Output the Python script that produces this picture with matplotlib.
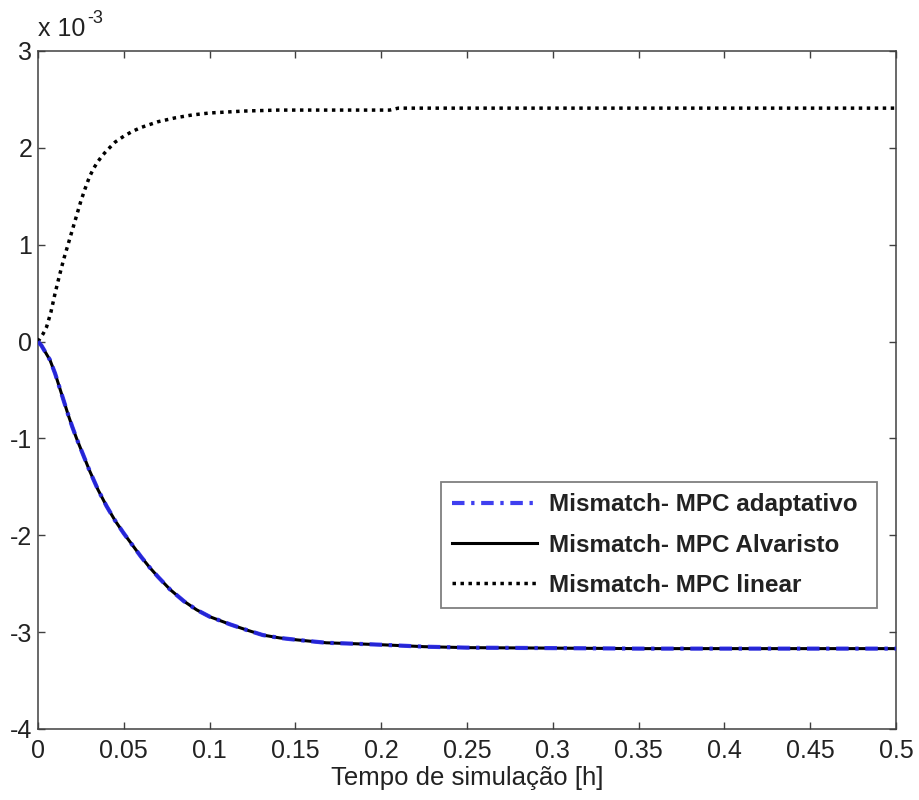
import matplotlib
matplotlib.use('Agg')
import matplotlib.pyplot as plt
from matplotlib.ticker import FuncFormatter, MultipleLocator

plt.rcParams['font.family'] = ['Liberation Sans', 'DejaVu Sans']

# tempo [h] e mismatch em unidades de 1e-3
t_linear = [0, 0.003, 0.005, 0.0075, 0.01, 0.0125, 0.015, 0.0175, 0.02, 0.0225, 0.025,
            0.0275, 0.03, 0.0325, 0.035, 0.0375, 0.04, 0.045, 0.05, 0.055, 0.06, 0.07,
            0.08, 0.09, 0.10, 0.11, 0.12, 0.14, 0.16, 0.18, 0.205, 0.21, 0.25, 0.3,
            0.35, 0.4, 0.45, 0.5]
v_linear = [0, 0.08, 0.15, 0.30, 0.50, 0.68, 0.85, 1.00, 1.15, 1.30, 1.45, 1.58,
            1.70, 1.79, 1.86, 1.92, 1.97, 2.06, 2.12, 2.17, 2.21, 2.27, 2.31, 2.34,
            2.36, 2.37, 2.38, 2.39, 2.39, 2.39, 2.39, 2.41, 2.41, 2.41, 2.41, 2.41,
            2.41, 2.41]

t_mpc = [0, 0.002, 0.004, 0.007, 0.01, 0.0125, 0.015, 0.0175, 0.02, 0.0225, 0.025,
         0.03, 0.035, 0.04, 0.045, 0.05, 0.055, 0.06, 0.065, 0.07, 0.077, 0.085,
         0.0925, 0.1, 0.112, 0.122, 0.131, 0.141, 0.151, 0.168, 0.185, 0.2, 0.225,
         0.25, 0.3, 0.35, 0.4, 0.45, 0.5]
v_alvaristo = [0, -0.04, -0.10, -0.19, -0.33, -0.47, -0.61, -0.75, -0.88, -1.00, -1.11,
               -1.33, -1.53, -1.70, -1.85, -1.98, -2.10, -2.22, -2.33, -2.43, -2.56,
               -2.68, -2.77, -2.84, -2.92, -2.98, -3.03, -3.06, -3.08, -3.11, -3.12,
               -3.13, -3.15, -3.16, -3.165, -3.17, -3.17, -3.17, -3.17]
v_adaptativo = [0, -0.04, -0.10, -0.19, -0.33, -0.47, -0.61, -0.75, -0.88, -1.00, -1.11,
                -1.33, -1.53, -1.70, -1.85, -1.98, -2.10, -2.22, -2.33, -2.43, -2.56,
                -2.68, -2.77, -2.84, -2.92, -2.98, -3.03, -3.06, -3.08, -3.11, -3.12,
                -3.13, -3.15, -3.16, -3.165, -3.17, -3.17, -3.17, -3.17]

labels = ['Mismatch- MPC adaptativo', 'Mismatch- MPC Alvaristo', 'Mismatch- MPC linear']

fig = plt.figure(figsize=(9.19, 8.0), dpi=100)
ax = fig.add_axes([0.0413, 0.08875, 0.9337, 0.8475])

sc = 1e-3
h_alv, = ax.plot(t_mpc, [v * sc for v in v_alvaristo], color='black',
                 lw=2.2, zorder=3)
h_ada, = ax.plot(t_mpc, [v * sc for v in v_adaptativo], color='#2a2aee',
                 lw=3.0, linestyle=(0, (3, 1.6, 0.8, 1.6)), alpha=0.9, zorder=4)
h_lin, = ax.plot(t_linear, [v * sc for v in v_linear], color='black', lw=2.5,
                 linestyle=(0, (1, 1.3)), zorder=3)

ax.set_xlim(0, 0.5)
ax.set_ylim(-4e-3, 3e-3)
ax.xaxis.set_major_locator(MultipleLocator(0.05))
ax.yaxis.set_major_locator(MultipleLocator(1e-3))
ax.xaxis.set_major_formatter(FuncFormatter(lambda x, p: '%g' % round(x, 2)))
ax.yaxis.set_major_formatter(FuncFormatter(lambda y, p: '%d' % round(y * 1e3)))

for s in ax.spines.values():
    s.set_color('#404040')
    s.set_linewidth(1.1)
ax.tick_params(direction='in', length=5, width=1.0, color='#404040',
               top=True, right=True, labelsize=18, labelcolor='#222222')
ax.tick_params(axis='x', pad=7)
ax.tick_params(axis='y', pad=4)

ax.set_xlabel('Tempo de simulação [h]', fontsize=18.5, color='#222222', labelpad=2)
# expoente no estilo MATLAB
ax.text(0.0, 1.015, 'x 10', transform=ax.transAxes, fontsize=18,
        color='#222222', ha='left', va='bottom')
ax.text(0.058, 1.036, '-3', transform=ax.transAxes, fontsize=13,
        color='#222222', ha='left', va='bottom')

leg = ax.legend([h_ada, h_alv, h_lin], labels, loc='upper left',
                bbox_to_anchor=(0.4697, 0.171, 0.508, 0.193), mode='expand',
                fancybox=False, prop={'weight': 'bold', 'size': 17.5},
                handlelength=3.5, borderaxespad=0, labelspacing=0.71,
                borderpad=0.46, handletextpad=0.5)
leg.get_frame().set_edgecolor('#606060')
leg.get_frame().set_linewidth(1.3)
for txt in leg.get_texts():
    txt.set_color('#222222')

fig.savefig('out.png', dpi=100, facecolor='white')
